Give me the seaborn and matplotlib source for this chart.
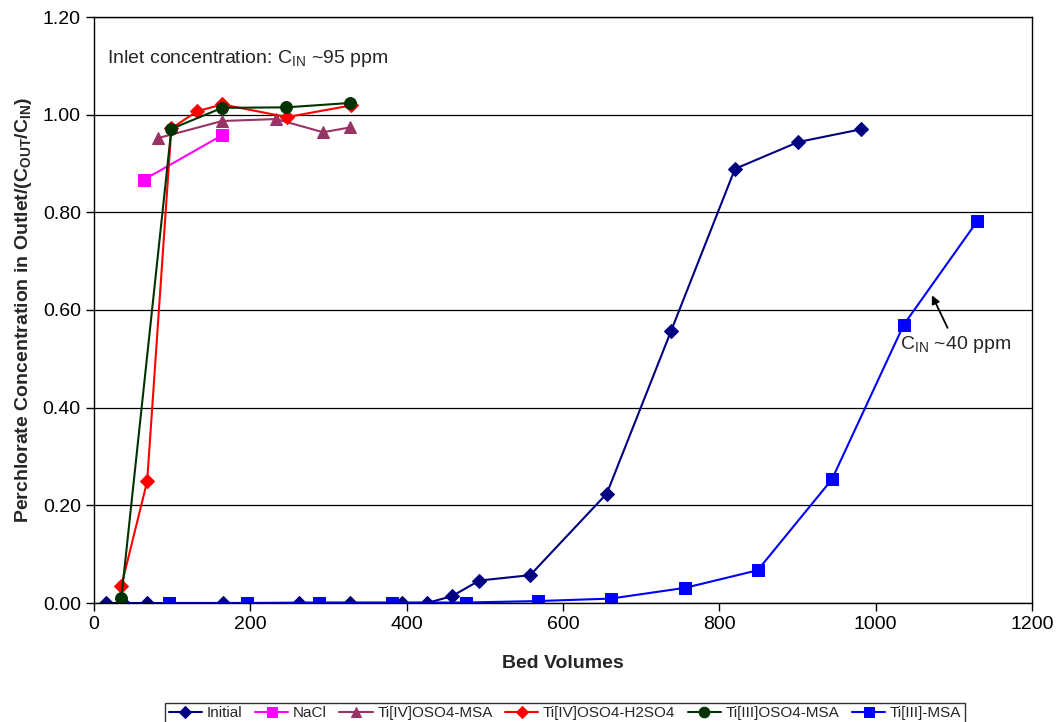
import matplotlib
matplotlib.use("Agg")
import matplotlib.pyplot as plt
import seaborn as sns
import pandas as pd

sns.set_style("white")
plt.rcParams['font.family'] = ['Liberation Sans', 'DejaVu Sans']
plt.rcParams['mathtext.fontset'] = 'custom'
plt.rcParams['mathtext.rm'] = 'Liberation Sans'

# ---- data ----
initial_x = [15, 37, 68, 165, 262, 327, 394, 426, 458, 493, 558, 656, 738, 820, 901, 981]
initial_y = [0.0, 0.0, 0.0, 0.0, 0.0, 0.0, 0.0, 0.0, 0.014, 0.046, 0.057, 0.224, 0.556, 0.889, 0.944, 0.970]

nacl_x = [64, 164]
nacl_y = [0.867, 0.958]

tiiv_msa_x = [82, 164, 233, 293, 328]
tiiv_msa_y = [0.952, 0.987, 0.991, 0.964, 0.974]

tiiv_h2so4_x = [35, 68, 99, 132, 164, 247, 329]
tiiv_h2so4_y = [0.035, 0.249, 0.972, 1.007, 1.021, 0.995, 1.019]

tiiii_oso4_x = [35, 99, 164, 246, 328]
tiiii_oso4_y = [0.011, 0.971, 1.014, 1.015, 1.024]

tiiii_msa_x = [96, 196, 288, 381, 476, 568, 661, 756, 849, 944, 1036, 1130]
tiiii_msa_y = [0.0, 0.0, 0.001, 0.001, 0.001, 0.004, 0.009, 0.031, 0.067, 0.253, 0.570, 0.782]

series = [
    ("Initial", initial_x, initial_y, "#000080", "D", 7),
    ("NaCl", nacl_x, nacl_y, "#FF00FF", "s", 8),
    ("Ti[IV]OSO4-MSA", tiiv_msa_x, tiiv_msa_y, "#993366", "^", 8.5),
    ("Ti[IV]OSO4-H2SO4", tiiv_h2so4_x, tiiv_h2so4_y, "#FF0000", "D", 7),
    ("Ti[III]OSO4-MSA", tiiii_oso4_x, tiiii_oso4_y, "#003300", "o", 8.5),
    ("Ti[III]-MSA", tiiii_msa_x, tiiii_msa_y, "#0000FF", "s", 8),
]

fig = plt.figure(figsize=(10.59, 7.22), dpi=100)
ax = fig.add_axes([94/1059, 1-603/722, (1032-94)/1059, (603-17)/722])

for name, xs, ys, col, mk, ms in series:
    df = pd.DataFrame({"x": xs, "y": ys})
    sns.lineplot(data=df, x="x", y="y", ax=ax, color=col, marker=mk,
                 markersize=ms, markeredgecolor=col, linewidth=1.5, label=name)

ax.set_xlim(0, 1200)
ax.set_ylim(0, 1.2)
ax.set_xticks(range(0, 1201, 200))
ax.set_yticks([0, 0.2, 0.4, 0.6, 0.8, 1.0, 1.2])
ax.set_yticklabels([f"{v:.2f}" for v in [0, 0.2, 0.4, 0.6, 0.8, 1.0, 1.2]])
ax.tick_params(axis='both', labelsize=14, direction='out', length=6, width=1,
               bottom=True, left=True, colors='black')
ax.yaxis.grid(True, color='black', linewidth=0.9)
ax.set_axisbelow(True)
for s in ax.spines.values():
    s.set_color('black')
    s.set_linewidth(1)

ax.set_xlabel("Bed Volumes", fontsize=14, fontweight='bold', labelpad=16)
ax.set_ylabel(r"Perchlorate Concentration in Outlet/(C$_{\mathregular{OUT}}$/C$_{\mathregular{IN}}$)",
              fontsize=14, fontweight='bold', labelpad=6)

ax.text(17, 1.115, r"Inlet concentration: C$_{\mathregular{IN}}$ ~95 ppm", fontsize=14,
        ha='left', va='center')
ax.annotate(r"C$_{\mathregular{IN}}$ ~40 ppm", xy=(1072, 0.63), xytext=(1031, 0.53),
            fontsize=14, ha='left', va='center',
            arrowprops=dict(arrowstyle='-|>', color='black', lw=1.3, shrinkA=2, shrinkB=0,
                            mutation_scale=12))

handles, labels = ax.get_legend_handles_labels()
ax.get_legend().remove()
leg = fig.legend(handles, labels, loc='upper center', bbox_to_anchor=(565/1059, 1-695/722),
                 ncol=6, fontsize=11, frameon=True, fancybox=False, edgecolor='black',
                 handlelength=2.2, handletextpad=0.3, columnspacing=0.8, borderpad=0.25,
                 markerscale=0.9)
leg.get_frame().set_linewidth(1)

fig.savefig("out.png", dpi=100)
